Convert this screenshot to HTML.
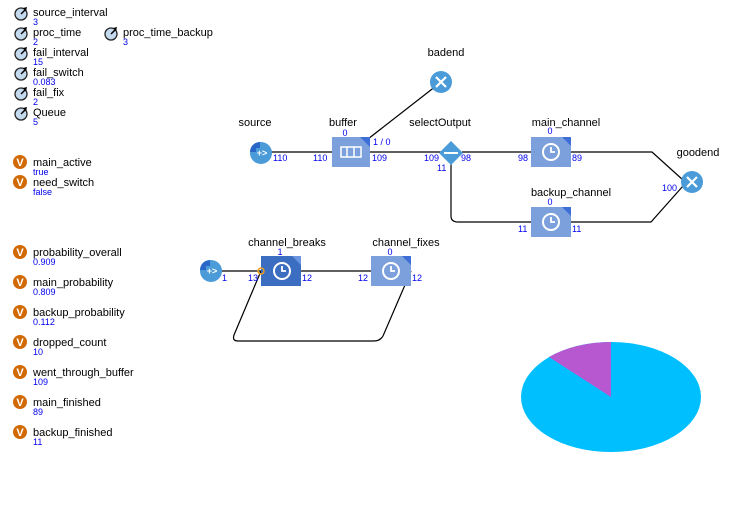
<!DOCTYPE html>
<html><head><meta charset="utf-8"><style>
body{margin:0;background:#fff;width:739px;height:520px;overflow:hidden}
svg{display:block}
text{font-family:"Liberation Sans",sans-serif}
.l{font-size:11px;fill:#000}
.v{font-size:9px;fill:#0000ee}
</style></head><body>
<svg width="739" height="520" viewBox="0 0 739 520" xmlns="http://www.w3.org/2000/svg">
<defs>
<g id="par"><circle cx="0" cy="0" r="6" fill="#c4daee" stroke="#222" stroke-width="1.3"/><path d="M0,0 L5,-5" stroke="#000" stroke-width="1.5"/><path d="M2,-6 L6,-7 L5,-3 Z" fill="#000"/></g>
<g id="var"><circle cx="0" cy="0" r="7" fill="#d16a05"/><text x="0" y="4" font-size="11" font-weight="bold" fill="#fff" text-anchor="middle" style="font-family:'Liberation Sans',sans-serif">V</text></g>
<g id="clock"><circle cx="0" cy="0" r="8" fill="none" stroke="#fff" stroke-width="2"/><path d="M0,-5 V0 H4" fill="none" stroke="#fff" stroke-width="1.8"/></g>
<g id="src"><circle cx="0" cy="0" r="11" fill="#4a9bd8"/><path d="M-11,-1 A10,10 0 0 1 -1,-11 L-1,-5 -5,-5 -5,-1Z" fill="#2a66c8"/><text x="1" y="3" font-size="9" fill="#fff" text-anchor="middle" font-weight="bold">+&gt;</text></g>
<g id="sink"><circle cx="0" cy="0" r="11" fill="#4a9bd8"/><path d="M-5,-5 L5,5 M5,-5 L-5,5" stroke="#fff" stroke-width="2.2"/></g>
</defs>

<use href="#par" x="21" y="14"/><text class="l" x="33" y="16">source_interval</text><text class="v" x="33" y="25">3</text>
<use href="#par" x="21" y="34"/><text class="l" x="33" y="36">proc_time</text><text class="v" x="33" y="45">2</text>
<use href="#par" x="111" y="34"/><text class="l" x="123" y="36">proc_time_backup</text><text class="v" x="123" y="45">3</text>
<use href="#par" x="21" y="54"/><text class="l" x="33" y="56">fail_interval</text><text class="v" x="33" y="65">15</text>
<use href="#par" x="21" y="74"/><text class="l" x="33" y="76">fail_switch</text><text class="v" x="33" y="85">0.083</text>
<use href="#par" x="21" y="94"/><text class="l" x="33" y="96">fail_fix</text><text class="v" x="33" y="105">2</text>
<use href="#par" x="21" y="114"/><text class="l" x="33" y="116">Queue</text><text class="v" x="33" y="125">5</text>

<use href="#var" x="20" y="162"/><text class="l" x="33" y="166">main_active</text><text class="v" x="33" y="175">true</text>
<use href="#var" x="20" y="182"/><text class="l" x="33" y="186">need_switch</text><text class="v" x="33" y="195">false</text>
<use href="#var" x="20" y="252"/><text class="l" x="33" y="256">probability_overall</text><text class="v" x="33" y="265">0.909</text>
<use href="#var" x="20" y="282"/><text class="l" x="33" y="286">main_probability</text><text class="v" x="33" y="295">0.809</text>
<use href="#var" x="20" y="312"/><text class="l" x="33" y="316">backup_probability</text><text class="v" x="33" y="325">0.112</text>
<use href="#var" x="20" y="342"/><text class="l" x="33" y="346">dropped_count</text><text class="v" x="33" y="355">10</text>
<use href="#var" x="20" y="372"/><text class="l" x="33" y="376">went_through_buffer</text><text class="v" x="33" y="385">109</text>
<use href="#var" x="20" y="402"/><text class="l" x="33" y="406">main_finished</text><text class="v" x="33" y="415">89</text>
<use href="#var" x="20" y="432"/><text class="l" x="33" y="436">backup_finished</text><text class="v" x="33" y="445">11</text>

<g stroke="#000" stroke-width="1.2" fill="none">
<path d="M271,152 H332"/>
<path d="M350,153 L436,86"/>
<path d="M370,152 H441"/>
<path d="M462,152 H531"/>
<path d="M571,152 H652 L683,180"/>
<path d="M451,164 V216 Q451,222 458,222 H531"/>
<path d="M571,222 H651 L683,186"/>
<path d="M221,271 H261"/>
<path d="M301,271 H371"/>
<path d="M411,271 L383,336 Q380,341 374,341 H238 Q232,341 234,335 L261,271"/>
</g>

<use href="#src" x="261" y="153"/><text class="l" x="255" y="126" text-anchor="middle">source</text>
<text class="v" x="273" y="161">110</text>

<rect x="332" y="137" width="38" height="30" fill="#7ba0dc"/>
<path d="M360,137 H370 V147Z" fill="#3d6fd6"/>
<rect x="341" y="147" width="20" height="10" fill="none" stroke="#fff" stroke-width="1.5"/><path d="M347,147 V157 M354,147 V157" stroke="#fff" stroke-width="1.5"/>
<text class="l" x="343" y="126" text-anchor="middle">buffer</text>
<text class="v" x="345" y="136" text-anchor="middle">0</text>
<text class="v" x="373" y="145">1 / 0</text>
<text class="v" x="313" y="161">110</text>
<text class="v" x="372" y="161">109</text>

<use href="#sink" x="441" y="82"/><text class="l" x="446" y="56" text-anchor="middle">badend</text>

<path d="M451,141 L463,153 L451,165 L439,153Z" fill="#4a9bd8"/>
<path d="M444,153 H458" stroke="#fff" stroke-width="2"/>
<text class="l" x="440" y="126" text-anchor="middle">selectOutput</text>
<text class="v" x="424" y="161">109</text><text class="v" x="461" y="161">98</text><text class="v" x="437" y="171">11</text>

<rect x="531" y="137" width="40" height="30" fill="#7ba0dc"/><path d="M562,137 H571 V146Z" fill="#3d6fd6"/>
<use href="#clock" x="551" y="152"/>
<text class="l" x="566" y="126" text-anchor="middle">main_channel</text>
<text class="v" x="550" y="134" text-anchor="middle">0</text>
<text class="v" x="518" y="161">98</text><text class="v" x="572" y="161">89</text>

<rect x="531" y="207" width="40" height="30" fill="#7ba0dc"/><path d="M562,207 H571 V216Z" fill="#3d6fd6"/>
<use href="#clock" x="551" y="222"/>
<text class="l" x="571" y="196" text-anchor="middle">backup_channel</text>
<text class="v" x="550" y="205" text-anchor="middle">0</text>
<text class="v" x="518" y="232">11</text><text class="v" x="572" y="232">11</text>

<use href="#sink" x="692" y="182"/><text class="l" x="698" y="156" text-anchor="middle">goodend</text>
<text class="v" x="662" y="191">100</text>

<use href="#src" x="211" y="271"/><text class="v" x="222" y="281">1</text>

<rect x="261" y="256" width="40" height="30" fill="#3b6ec0"/><path d="M292,256 H301 V265Z" fill="#6a95e0"/>
<use href="#clock" x="282" y="271"/>
<circle cx="261" cy="271" r="3" fill="none" stroke="#f0a020" stroke-width="1.5"/>
<text class="l" x="287" y="246" text-anchor="middle">channel_breaks</text>
<text class="v" x="280" y="255" text-anchor="middle">1</text>
<text class="v" x="248" y="281">13</text><text class="v" x="302" y="281">12</text>

<rect x="371" y="256" width="40" height="30" fill="#7ba0dc"/><path d="M402,256 H411 V265Z" fill="#3d6fd6"/>
<use href="#clock" x="391" y="271"/>
<text class="l" x="406" y="246" text-anchor="middle">channel_fixes</text>
<text class="v" x="390" y="255" text-anchor="middle">0</text>
<text class="v" x="358" y="281">12</text><text class="v" x="412" y="281">12</text>

<ellipse cx="611" cy="397" rx="90" ry="55" fill="#00bfff"/>
<path d="M611,397 L611,342 A90,55 0 0 0 549,357 Z" fill="#b858d0"/>
</svg>
</body></html>
